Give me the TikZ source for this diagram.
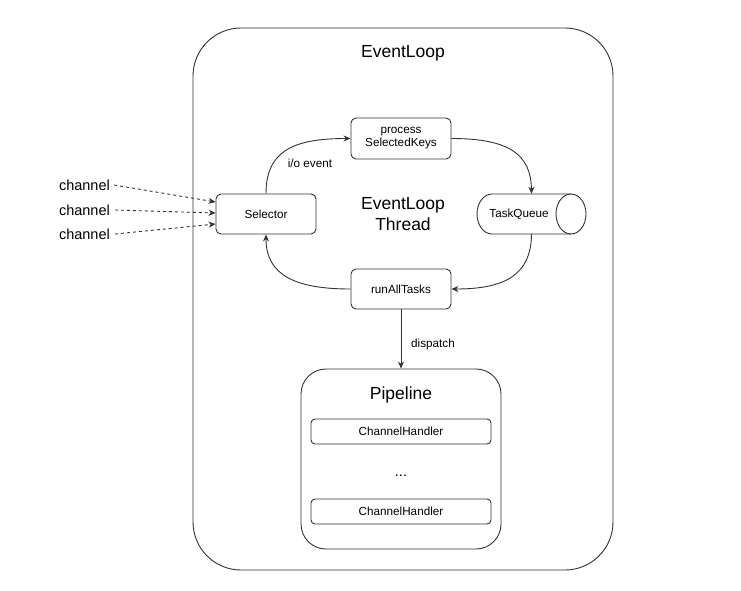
\documentclass[tikz,border=0pt]{standalone}
\usepackage{fontspec}
\setmainfont{Liberation Sans}
\usetikzlibrary{arrows.meta}
\definecolor{ln}{HTML}{333333}
\begin{document}
\begin{tikzpicture}[x=1pt,y=-1pt,
  box/.style={draw=ln,line width=0.9pt,rounded corners=5pt,font=\fontsize{11.7}{13}\selectfont,align=center,inner sep=0pt},
  small/.style={font=\fontsize{11.7}{13}\selectfont,inner sep=0pt},
  big/.style={font=\fontsize{17.5}{21}\selectfont,inner sep=0pt,align=center},
  chan/.style={font=\fontsize{14.5}{16}\selectfont,inner sep=0pt},
  arr/.style={draw=ln,line width=0.9pt,-{Stealth[length=7pt,width=6pt]}},
  dsh/.style={arr,dash pattern=on 3pt off 3pt}]
\path[use as bounding box,fill=white] (0,0) rectangle (741,591);
% outer EventLoop box
\node[draw=ln,line width=0.9pt,rounded corners=48pt,minimum width=420pt,minimum height=542pt,inner sep=0pt] (loop) at (403,299) {};
\node[big] (looptitle) at (403,53) {EventLoop};
% inner nodes
\node[box,minimum width=100pt,minimum height=40pt] (sel) at (266,214) {Selector};
\node[box,minimum width=100pt,minimum height=41pt] (psk) at (401,138.5) {process\\SelectedKeys};
\node[box,minimum width=100pt,minimum height=40pt] (rat) at (401,289) {runAllTasks};
\node[big] (thread) at (403,214) {EventLoop\\Thread};
% TaskQueue cylinder
\node[minimum width=109pt,minimum height=40pt,inner sep=0pt] (tq) at (531.5,214) {};
\draw[ln,line width=0.9pt] (571,194) -- (492,194) arc[start angle=-90,end angle=-270,x radius=15,y radius=20] -- (571,234);
\draw[ln,line width=0.9pt] (571,214) ellipse[x radius=15,y radius=20];
\node[small] (tqlabel) at (519,214) {TaskQueue};
% channels
\node[chan,anchor=east] (c1) at (110,185) {channel};
\node[chan,anchor=east] (c2) at (110,210) {channel};
\node[chan,anchor=east] (c3) at (110,234) {channel};
\draw[dsh] (c1.east) ++(4,0) -- ([yshift=12pt]sel.west);
\draw[dsh] (c2.east) ++(5,0) -- ([yshift=1pt]sel.west);
\draw[dsh] (c3.east) ++(5,0) -- ([yshift=-10pt]sel.west);
% loop curves
\draw[arr] (sel.north) .. controls (266,150) and (295,138.5) .. (psk.west);
\node[small] (io) at (310,163) {i/o event};
\draw[arr] (psk.east) .. controls (510,138.5) and (531,155) .. (tq.north);
\draw[arr] (tq.south) .. controls (531,275) and (505,289) .. (rat.east);
\draw[arr] (rat.west) .. controls (295,289) and (266,275) .. (sel.south);
% pipeline
\node[draw=ln,line width=0.9pt,rounded corners=25pt,minimum width=200pt,minimum height=180pt,inner sep=0pt] (pipe) at (401,459) {};
\node[big] (pipetitle) at (401,395) {Pipeline};
\node[box,minimum width=180pt,minimum height=25pt,rounded corners=4pt] (ch1) at (401,431.5) {ChannelHandler};
\node[font=\fontsize{14.5}{16}\selectfont,inner sep=0pt] (dots) at (401,476) {...};
\node[box,minimum width=180pt,minimum height=25pt,rounded corners=4pt] (ch2) at (401,511.5) {ChannelHandler};
\draw[arr] (rat.south) -- (pipe.north);
\node[small,anchor=west] (disp) at (411,344) {dispatch};
\end{tikzpicture}
\end{document}
